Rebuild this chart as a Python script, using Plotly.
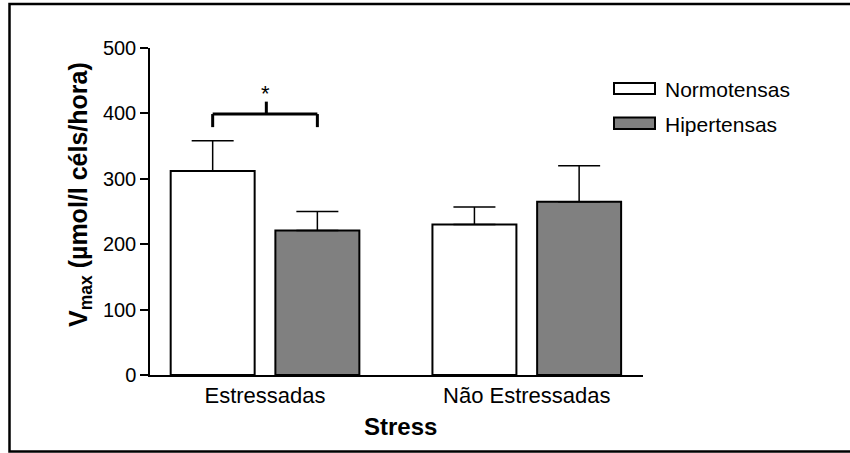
import plotly.graph_objects as go

# ---------------- data ----------------
categories = ["Estressadas", "Não Estressadas"]
series_names = ["Normotensas", "Hipertensas"]
normotensas = [312, 230]
hipertensas = [221, 265]
normotensas_err = [46, 27]
hipertensas_err = [29, 55]
y_ticks = [0, 100, 200, 300, 400, 500]
x_title = "Stress"
y_title = "<b>V</b><sub><b>max</b></sub><b> (µmol/l céls/hora)</b>"
sig_label = "*"

# ---------------- geometry ----------------
W, H = 850, 453
PL, PR, PT, PB = 150, 643, 48, 375  # plot area in pixels
FONT = "Liberation Sans, Arial, sans-serif"


def px_x(p):
    return (p - PL) / (PR - PL)


def px_y(p):
    return (PB - p) / (PB - PT)


fig = go.Figure()
fills = ["#ffffff", "#808080"]
values = [normotensas, hipertensas]
errors = [normotensas_err, hipertensas_err]
for name, vals, errs, fc in zip(series_names, values, errors, fills):
    fig.add_trace(go.Bar(
        x=categories, y=vals, name=name,
        marker=dict(color=fc, line=dict(color="black", width=2)),
        error_y=dict(type="data", symmetric=False, array=errs,
                     arrayminus=[0] * len(errs), color="black",
                     thickness=1.5, width=21),
        showlegend=False,
    ))

fig.update_layout(
    width=W, height=H,
    margin=dict(l=PL, r=W - PR, t=PT, b=H - PB),
    paper_bgcolor="white", plot_bgcolor="white",
    barmode="group", bargap=0.2, bargroupgap=0.198,
    font=dict(family=FONT, color="black"),
    xaxis=dict(range=[-0.4394, 1.444], showgrid=False, zeroline=False,
               showline=True, linecolor="black", linewidth=1.5,
               ticks="", tickfont=dict(size=22, color="black")),
    yaxis=dict(range=[0, 500], tickvals=y_ticks, showgrid=False,
               zeroline=False, showline=True, linecolor="black",
               linewidth=1.5, ticks="outside", ticklen=8, tickwidth=1.5,
               tickcolor="black", tickfont=dict(size=20, color="black")),
)

shapes = []
# significance bracket between the two Estressadas bars
bx0, bx1 = -0.2, 0.2
b_level, b_leg, b_tick, b_star = 399, 379, 418, 430
lw = 3
shapes += [
    dict(type="line", xref="x", yref="y", x0=bx0, x1=bx1, y0=b_level, y1=b_level,
         line=dict(color="black", width=lw)),
    dict(type="line", xref="x", yref="y", x0=bx0, x1=bx0, y0=b_level, y1=b_leg,
         line=dict(color="black", width=lw)),
    dict(type="line", xref="x", yref="y", x0=bx1, x1=bx1, y0=b_level, y1=b_leg,
         line=dict(color="black", width=lw)),
    dict(type="line", xref="x", yref="y", x0=0.005, x1=0.005, y0=b_level, y1=b_tick,
         line=dict(color="black", width=lw)),
]
# custom legend swatches
legend_rows = [(83, 94), (117.5, 129)]
for (top, bot), fc in zip(legend_rows, fills):
    shapes.append(dict(type="rect", xref="paper", yref="paper",
                       x0=px_x(614), x1=px_x(655), y0=px_y(bot), y1=px_y(top),
                       fillcolor=fc, line=dict(color="black", width=2)))
# outer frame
shapes.append(dict(type="rect", xref="paper", yref="paper",
                   x0=px_x(9.5), x1=px_x(870), y0=px_y(451.5), y1=px_y(4),
                   line=dict(color="black", width=2.5), layer="below"))
fig.update_layout(shapes=shapes)

ann = []
for (top, bot), name in zip(legend_rows, series_names):
    ann.append(dict(text=name, xref="paper", yref="paper", x=px_x(663),
                    y=px_y((top + bot) / 2 + 1), xanchor="left", yanchor="middle",
                    showarrow=False, font=dict(size=21, color="black", family=FONT)))
ann.append(dict(text=sig_label, xref="x", yref="y", x=0.0, y=b_star,
                xanchor="center", yanchor="middle", showarrow=False,
                font=dict(size=22, color="black", family=FONT)))
ann.append(dict(text="<b>" + x_title + "</b>", xref="paper", yref="paper",
                x=px_x(400.5), y=px_y(426), xanchor="center", yanchor="middle",
                showarrow=False, font=dict(size=24, color="black", family=FONT)))
ann.append(dict(text=y_title, xref="paper", yref="paper",
                x=px_x(80), y=px_y(195), xanchor="center", yanchor="middle",
                textangle=-90, showarrow=False,
                font=dict(size=25, color="black", family=FONT)))
fig.update_layout(annotations=ann)

fig.write_html("out.html", config={"displayModeBar": False},
               post_script="document.body.style.margin='0px';")
